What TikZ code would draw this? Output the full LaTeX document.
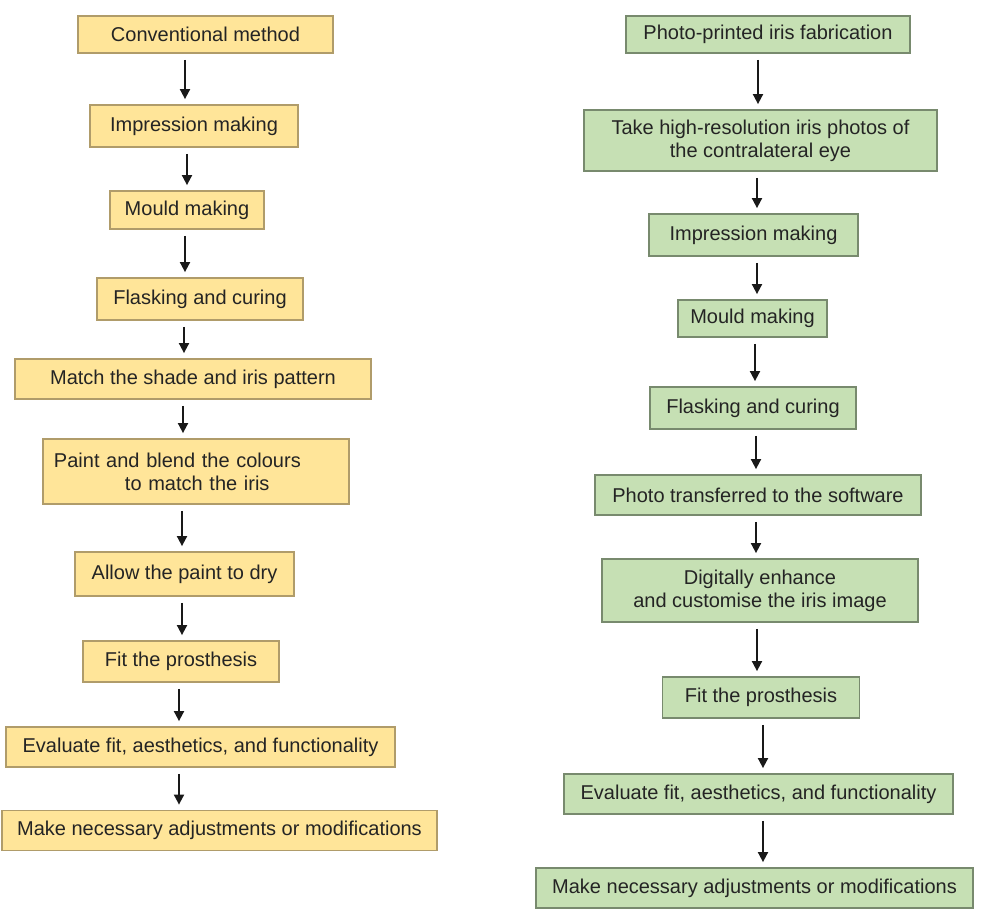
\documentclass[tikz,border=0pt]{standalone}
\usepackage{fontspec}
\setmainfont{Liberation Sans}
\usetikzlibrary{arrows.meta}
\definecolor{convfill}{RGB}{255,229,153}
\definecolor{convedge}{RGB}{176,156,106}
\definecolor{photofill}{RGB}{198,224,180}
\definecolor{photoedge}{RGB}{120,138,110}
\definecolor{inkdark}{RGB}{36,36,36}
\definecolor{arrowink}{RGB}{25,25,25}
\tikzset{
  stepbox/.style={line width=0.9pt, inner sep=0pt, text=inkdark,
    font=\fontsize{10}{11.5}\selectfont},
  convbox/.style={stepbox, draw=convedge, fill=convfill},
  photobox/.style={stepbox, draw=photoedge, fill=photofill},
  % size of a box in pt (half of a reference pixel)
  boxsize/.style 2 args={minimum width=#1pt, minimum height=#2pt},
  flowarr/.style={draw=arrowink, line width=0.9pt, -{Triangle[length=5pt, width=5pt]},
    shorten <=3pt, shorten >=2.5pt},
}

\begin{document}
\begin{tikzpicture}[x=0.5pt, y=-0.5pt]
\useasboundingbox (0,0) rectangle (986,920);

% ============================================================ conventional method
\node[convbox, boxsize={127.5}{18.5}] (c1) at (205.5, 34.5) {Conventional method};
\node[convbox, boxsize={104}{21}]     (c2) at (194, 126) {Impression making};
\node[convbox, boxsize={77}{19}]      (c3) at (187, 210) {Mould making};
\node[convbox, boxsize={103}{21}]     (c4) at (200, 299) {Flasking and curing};
\node[convbox, boxsize={178}{20}]     (c5) at (193, 379) {Match the shade and iris pattern};
\node[convbox, boxsize={153}{32.5}, text width=142pt, align=left, inner xsep=5.5pt] (c6) at (196, 471.5)
  {Paint and blend the colours\\\hspace*{35.5pt}to match the iris};
\node[convbox, boxsize={109.5}{22}]   (c7) at (184.5, 574) {Allow the paint to dry};
\node[convbox, boxsize={98}{20.5}]    (c8) at (181, 661.5) {Fit the prosthesis};
\node[convbox, boxsize={194.5}{20}]   (c9) at (200.5, 747) {Evaluate fit, aesthetics, and functionality};
\node[convbox, boxsize={217.5}{20}]   (c10) at (219.5, 830.5) {Make necessary adjustments or modifications};

\draw[flowarr] (c1.south -| 185,0) -- (c2.north -| 185,0);
\draw[flowarr] (c2.south -| 187,0) -- (c3.north -| 187,0);
\draw[flowarr] (c3.south -| 185,0) -- (c4.north -| 185,0);
\draw[flowarr] (c4.south -| 184,0) -- (c5.north -| 184,0);
\draw[flowarr] (c5.south -| 183,0) -- (c6.north -| 183,0);
\draw[flowarr] (c6.south -| 182,0) -- (c7.north -| 182,0);
\draw[flowarr] (c7.south -| 182,0) -- (c8.north -| 182,0);
\draw[flowarr] (c8.south -| 179,0) -- (c9.north -| 179,0);
\draw[flowarr] (c9.south -| 179,0) -- (c10.north -| 179,0);

% ============================================================ photo-printed iris
\node[photobox, boxsize={142}{18.5}]  (p1) at (768, 34.5) {Photo-printed iris fabrication};
\node[photobox, boxsize={176.5}{30.5}, align=center] (p2) at (760.5, 140.5)
  {Take high-resolution iris photos of\\the contralateral eye};
\node[photobox, boxsize={104.5}{21}]  (p3) at (753.5, 235) {Impression making};
\node[photobox, boxsize={74.5}{18.5}] (p4) at (752.5, 318.5) {Mould making};
\node[photobox, boxsize={103}{21}]    (p5) at (753, 408) {Flasking and curing};
\node[photobox, boxsize={163}{20}]    (p6) at (758, 495) {Photo transferred to the software};
\node[photobox, boxsize={158}{31.5}, align=center] (p7) at (760, 590.5)
  {Digitally enhance\\and customise the iris image};
\node[photobox, boxsize={98.5}{20.5}] (p8) at (761, 697.5) {Fit the prosthesis};
\node[photobox, boxsize={194.5}{20}]  (p9) at (758.5, 794) {Evaluate fit, aesthetics, and functionality};
\node[photobox, boxsize={218.5}{20}]  (p10) at (754.5, 888) {Make necessary adjustments or modifications};

\draw[flowarr] (p1.south -| 758,0) -- (p2.north -| 758,0);
\draw[flowarr] (p2.south -| 757,0) -- (p3.north -| 757,0);
\draw[flowarr] (p3.south -| 757,0) -- (p4.north -| 757,0);
\draw[flowarr] (p4.south -| 755,0) -- (p5.north -| 755,0);
\draw[flowarr] (p5.south -| 756,0) -- (p6.north -| 756,0);
\draw[flowarr] (p6.south -| 756,0) -- (p7.north -| 756,0);
\draw[flowarr] (p7.south -| 757,0) -- (p8.north -| 757,0);
\draw[flowarr] (p8.south -| 763,0) -- (p9.north -| 763,0);
\draw[flowarr] (p9.south -| 763,0) -- (p10.north -| 763,0);

\end{tikzpicture}
\end{document}
